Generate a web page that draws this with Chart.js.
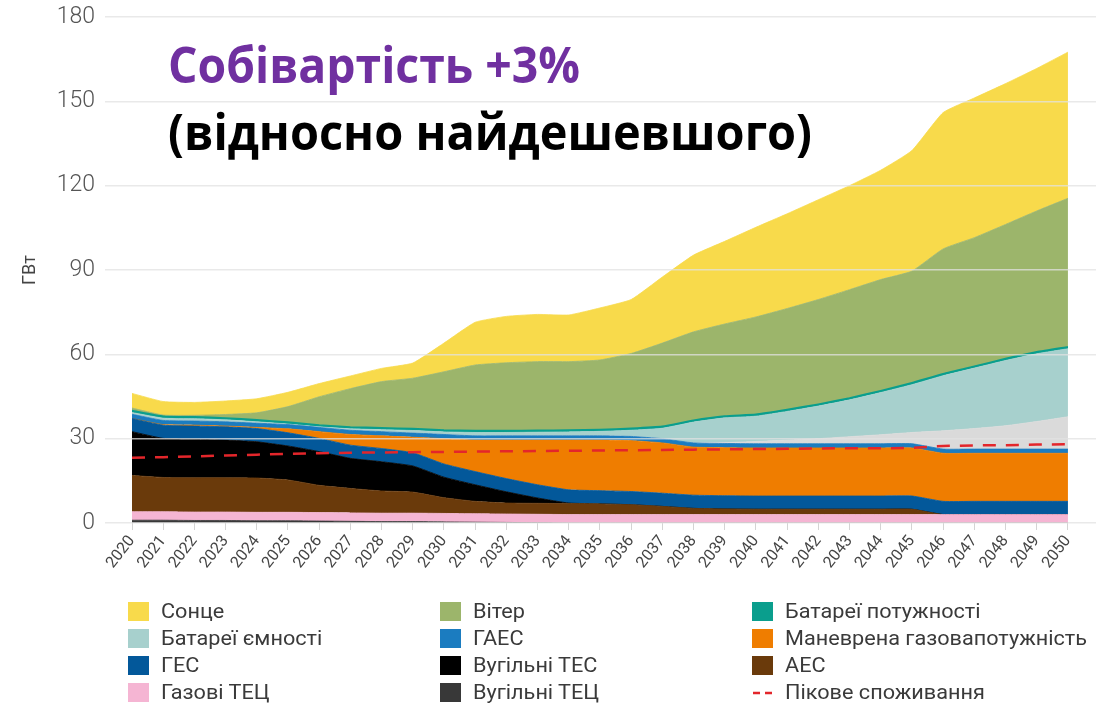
<!DOCTYPE html>
<html><head><meta charset="utf-8">
<script src="https://cdn.jsdelivr.net/npm/chart.js@4/dist/chart.umd.min.js"></script>
<style>
html,body{margin:0;padding:0;background:#fff;}
#wrap{position:relative;width:1096px;height:706px;overflow:hidden;background:#fff;}
#c{position:absolute;left:0;top:0;}
#legend{position:absolute;left:0;top:0;width:1096px;height:706px;pointer-events:none;}
.li{position:absolute;height:20px;}
.sw{position:absolute;left:0;top:0;width:21px;height:19px;}
.lt{position:absolute;left:33px;top:-3px;white-space:nowrap;font:400 20px 'Roboto',sans-serif;color:#3a3a3a;transform-origin:0 50%;line-height:24px;}
</style></head>
<body><div id="wrap"><canvas id="c" width="1096" height="600"></canvas><div id="legend"></div></div>
<script>
const years = [2020,2021,2022,2023,2024,2025,2026,2027,2028,2029,2030,2031,2032,2033,2034,2035,2036,2037,2038,2039,2040,2041,2042,2043,2044,2045,2046,2047,2048,2049,2050];
const yTicks = [0,30,60,90,120,150,180];

const coalChp    = [1.0,1.0,0.9,0.9,0.8,0.8,0.7,0.6,0.5,0.5,0.4,0.3,0.2,0.1,0,0,0,0,0,0,0,0,0,0,0,0,0,0,0,0,0];
const gasChp     = [3.0,3.0,3.0,3.0,3.0,3.0,3.0,3.0,3.0,3.0,3.0,3.0,3.0,3.0,3.0,3.0,3.0,3.0,3.0,3.0,3.0,3.0,3.0,3.0,3.0,3.0,3.0,3.0,3.0,3.0,3.0];
const nuclear    = [12.9,12.2,12.2,12.2,12.2,11.5,9.7,8.7,7.9,7.5,5.6,4.4,3.9,3.9,3.9,3.8,3.5,2.9,2.2,2.0,1.9,1.9,1.9,1.9,1.9,1.9,0,0,0,0,0];
const coalTpp    = [15.6,13.9,13.7,13.4,12.9,12.1,12.0,10.7,10.4,9.3,7.3,5.9,4.0,1.9,0.2,0,0,0,0,0,0,0,0,0,0,0,0,0,0,0,0];
const hydro      = [4.7,4.7,4.7,4.7,4.7,4.7,4.7,4.7,4.7,4.7,4.7,4.7,4.7,4.7,4.7,4.7,4.7,4.7,4.7,4.7,4.7,4.7,4.7,4.7,4.7,4.7,4.7,4.7,4.7,4.7,4.7];
const flexGas    = [0,0.2,0.3,0.3,0.4,1.4,2.4,3.8,4.5,5.5,9.0,11.2,13.7,15.9,17.7,18.0,18.1,17.9,17.1,17.1,17.1,17.1,17.1,17.1,17.1,17.1,17.1,17.1,17.1,17.1,17.1];
const pumped     = [1.5,1.5,1.5,1.5,1.5,1.5,1.5,1.5,1.5,1.5,1.5,1.5,1.5,1.5,1.5,1.5,1.5,1.5,1.5,1.5,1.5,1.5,1.5,1.5,1.5,1.5,1.5,1.5,1.5,1.5,1.5];
const otherGray  = [0,0,0,0,0,0,0,0,0,0,0,0,0,0,0,0,0,0,0,0.3,0.8,1.3,1.8,2.5,3.2,4.0,6.5,7.3,8.3,9.8,11.5];
const battEnergy = [0.6,0.8,0.8,0.7,0.5,0.2,0.2,0.5,0.7,0.9,0.9,1.2,1.2,1.3,1.4,1.6,2.2,3.7,7.4,8.8,9.0,10.2,11.6,13.1,15.0,17.0,19.6,21.5,23.2,24.1,24.2];
const battPower  = [0.6,0.6,0.6,0.6,0.6,0.6,0.6,0.6,0.6,0.6,0.6,0.6,0.6,0.6,0.6,0.6,0.6,0.6,0.6,0.6,0.6,0.6,0.6,0.6,0.6,0.6,0.6,0.6,0.6,0.6,0.6];
const wind       = [1.0,0.5,0.6,1.3,2.6,5.6,10.1,13.7,16.5,18.0,20.8,23.4,24.2,24.5,24.4,24.8,26.7,29.7,31.5,32.8,34.7,36.0,37.3,38.6,39.6,39.8,44.5,45.8,47.8,50.2,52.9];
const solar      = [5.2,4.8,4.6,4.8,5.0,5.1,4.7,4.5,4.7,5.4,10.2,15.2,16.5,16.8,16.6,18.5,19.2,23.5,27.3,29.4,31.9,33.7,35.5,37.0,38.9,42.9,48.5,49.7,50.1,50.7,52.0];
const peakDemand = [23.2,23.4,23.7,24.0,24.3,24.6,24.8,25.0,25.1,25.2,25.3,25.4,25.5,25.6,25.7,25.8,25.9,26.0,26.1,26.2,26.3,26.4,26.5,26.6,26.6,26.7,27.4,27.6,27.7,27.9,28.0];

const series = [
  {label:'Вугільні ТЕЦ', data:coalChp, color:'#383838'},
  {label:'Газові ТЕЦ', data:gasChp, color:'#f5b5d3'},
  {label:'АЕС', data:nuclear, color:'#6a3a0b'},
  {label:'Вугільні ТЕС', data:coalTpp, color:'#000000'},
  {label:'ГЕС', data:hydro, color:'#03589a'},
  {label:'Маневрена газовапотужність', data:flexGas, color:'#ef7d00'},
  {label:'ГАЕС', data:pumped, color:'#1b7cc0'},
  {label:'', data:otherGray, color:'#dadada'},
  {label:'Батареї ємності', data:battEnergy, color:'#a7d0cd'},
  {label:'Батареї потужності', data:battPower, color:'#0a9e8d'},
  {label:'Вітер', data:wind, color:'#9cb56b'},
  {label:'Сонце', data:solar, color:'#f8da4b'}
];
const peakLabel = 'Пікове споживання';
const legendOrder = ['Сонце','Вітер','Батареї потужності','Батареї ємності','ГАЕС','Маневрена газовапотужність','ГЕС','Вугільні ТЕС','АЕС','Газові ТЕЦ','Вугільні ТЕЦ', peakLabel];

const datasets = series.map((s,i)=>({
  label:s.label,
  data:s.data.map((v,j)=>({x:years[j], y:v})),
  backgroundColor:s.color,
  borderColor:s.color,
  borderWidth: s.label==='Батареї потужності' ? 2 : 0.8,
  fill: i===0 ? 'origin' : '-1',
  pointRadius:0,
  tension:0.15,
  yAxisID:'y'
}));
datasets.push({
  label:peakLabel,
  data:peakDemand.map((v,j)=>({x:years[j], y:v})),
  borderColor:'#e3262b',
  backgroundColor:'#e3262b',
  borderWidth:2.5,
  borderDash:[13,10],
  fill:false,
  pointRadius:0,
  tension:0,
  order:-1,
  yAxisID:'y2'
});

const titlePlugin = {
  id:'titles',
  afterDraw(chart){
    const ctx = chart.ctx;
    const lines = [
      {text:'Собівартість +3%', color:'#7030a0', font:'bold 50px "Open Sans"', x:168, y:83, w:412},
      {text:'(відносно найдешевшого)', color:'#000000', font:'bold 51px "Open Sans"', x:168, y:150, w:644}
    ];
    lines.forEach(l=>{
      ctx.save();
      ctx.font = l.font;
      ctx.fillStyle = l.color;
      ctx.textBaseline = 'alphabetic';
      const m = ctx.measureText(l.text).width;
      ctx.translate(l.x, l.y);
      ctx.scale(l.w/m, 1);
      ctx.fillText(l.text, 0, 0);
      ctx.restore();
    });
  }
};

const chart = new Chart(document.getElementById('c'), {
  type:'line',
  data:{datasets},
  plugins:[titlePlugin],
  options:{
    responsive:false,
    animation:false,
    layout:{autoPadding:false, padding:{top:17,right:0,bottom:0,left:0}},
    plugins:{legend:{display:false}, tooltip:{enabled:false}},
    scales:{
      x:{
        type:'linear', min:2020, max:2050.9,
        afterBuildTicks:s=>{ s.ticks = years.map(v=>({value:v})); },
        afterFit:s=>{ s.height = 77; s.paddingLeft = 0; s.paddingRight = 0; },
        ticks:{autoSkip:false, maxRotation:52, minRotation:52, padding:2, color:'#444',
               font:{family:'Roboto', size:16, weight:'400'}, callback:v=>String(v)},
        grid:{drawOnChartArea:false, drawTicks:true, tickLength:7, color:'#d4d4d4'},
        border:{display:false}
      },
      y:{
        stacked:true, min:0, max:180,
        afterBuildTicks:s=>{ s.ticks = yTicks.map(v=>({value:v})); },
        afterFit:s=>{ s.width = 132; s.paddingTop = 0; s.paddingBottom = 0; },
        ticks:{padding:10, color:'#555', font:{family:'Roboto', size:23, weight:'300'}},
        grid:{color:'rgba(226,226,226,0.75)', lineWidth:1.5, tickLength:27, z:1},
        border:{display:false},
        title:{display:true, text:'ГВт', color:'#444', font:{family:'Roboto', size:18, weight:'400'}, padding:{top:20,bottom:0}}
      },
      y2:{display:false, min:0, max:180}
    }
  }
});

// HTML legend built from chart datasets
const leg = document.getElementById('legend');
const colX = [128, 440, 752];
const rowY = [602, 629, 656, 683];
const spans = [];
legendOrder.forEach((name, k)=>{
  const ds = chart.data.datasets.find(d=>d.label===name);
  const item = document.createElement('div');
  item.className = 'li';
  item.style.left = colX[k%3]+'px';
  item.style.top = rowY[Math.floor(k/3)]+'px';
  if (name === peakLabel) {
    item.innerHTML = '<svg width="22" height="19" style="position:absolute;left:0;top:0"><line x1="1" y1="10" x2="22" y2="10" stroke="'+ds.borderColor+'" stroke-width="2.5" stroke-dasharray="7,5"/></svg>';
  } else {
    const sw = document.createElement('div');
    sw.className = 'sw';
    sw.style.background = ds.backgroundColor;
    item.appendChild(sw);
  }
  const t = document.createElement('div');
  t.className = 'lt';
  t.textContent = name;
  item.appendChild(t);
  leg.appendChild(item);
  spans.push(t);
});
const ref = spans[legendOrder.indexOf('Маневрена газовапотужність')];
const k = 302 / ref.getBoundingClientRect().width;
spans.forEach(s=>{ s.style.transform = 'scaleX('+k+')'; });
</script>
</body></html>
